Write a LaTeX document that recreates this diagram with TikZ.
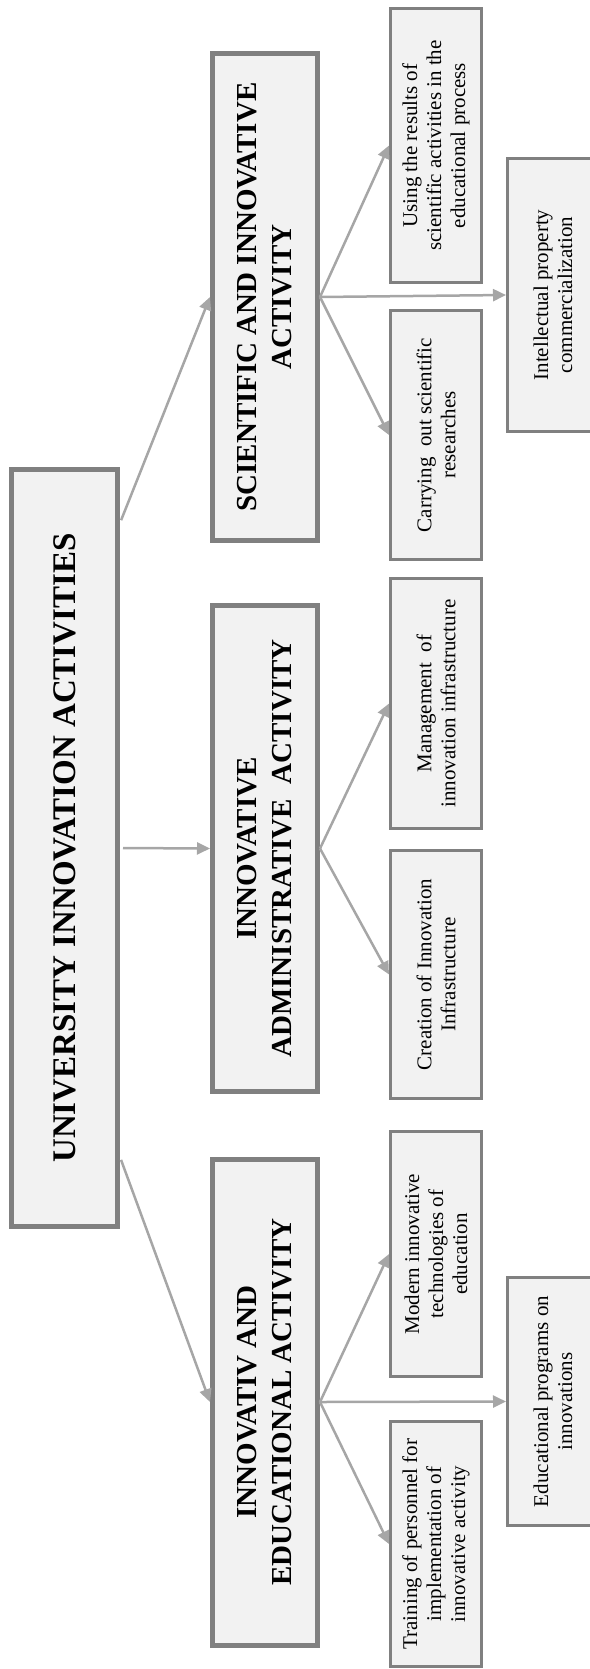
\documentclass[tikz,border=0pt]{standalone}
\usepackage{fontspec}
\setmainfont{Liberation Serif}
\usetikzlibrary{arrows.meta,calc}

\newlength{\du}
\setlength{\du}{0.5pt}

\definecolor{boxlinecolor}{rgb}{0.500000, 0.500000, 0.500000}
\definecolor{boxfillcolor}{rgb}{0.949020, 0.949020, 0.949020}
\definecolor{linkcolor}{rgb}{0.650980, 0.650980, 0.650980}

\tikzset{
  mainbox/.style={draw=boxlinecolor, fill=boxfillcolor, line width=2.5pt, rotate=90,
    minimum width=378.5pt, minimum height=53pt, inner sep=0pt, align=center,
    font=\fontsize{16.5}{20}\selectfont\bfseries},
  midbox/.style={draw=boxlinecolor, fill=boxfillcolor, line width=2.5pt, rotate=90,
    minimum width=243pt, minimum height=52.5pt, inner sep=0pt, align=center,
    font=\fontsize{14.5}{17.5}\selectfont\bfseries},
  smallbox/.style={draw=boxlinecolor, fill=boxfillcolor, line width=1.5pt, rotate=90,
    minimum height=45.5pt, inner sep=0pt, align=center,
    font=\fontsize{10.5}{12}\selectfont},
  link/.style={draw=linkcolor, line width=1.25pt, -{Triangle[length=6.5pt,width=6pt]}}
}

\begin{document}
\begin{tikzpicture}[x=1\du,y=-1\du]
\useasboundingbox (0,0) rectangle (589,1669);
% main box
\node[mainbox] (univ) at (64.5,848) {UNIVERSITY INNOVATION ACTIVITIES};
% activity groups
\node[midbox] (sci) at (265,297) {SCIENTIFIC AND INNOVATIVE\\ACTIVITY};
\node[midbox] (adm) at (265,848.5) {INNOVATIVE\\ADMINISTRATIVE~ ACTIVITY};
\node[midbox] (edu) at (265,1402) {INNOVATIV AND\\EDUCATIONAL ACTIVITY};
% scientific branch
\node[smallbox, minimum width=137pt] (using) at (436,145.5) {Using the results of\\scientific activities in the\\educational process};
\node[smallbox, minimum width=124.5pt] (carry) at (436,435) {Carrying~ out scientific\\researches};
\node[smallbox, minimum width=136.5pt] (ipc) at (553,295) {Intellectual property\\commercialization};
% administrative branch
\node[smallbox, minimum width=125pt] (manage) at (436,703.5) {Management~ of\\innovation infrastructure};
\node[smallbox, minimum width=124pt] (create) at (436,974.5) {Creation of Innovation\\Infrastructure};
% educational branch
\node[smallbox, minimum width=122.5pt] (modern) at (436,1254) {Modern innovative\\technologies of\\education};
\node[smallbox, minimum width=122.5pt] (train) at (436,1544) {Training of personnel for\\implementation of\\innovative activity};
\node[smallbox, minimum width=124pt] (eprog) at (553,1401.5) {Educational programs on\\innovations};
% links
\draw[link, shorten <=1.5pt] ($(univ.south)+(0,-325)$) -- (sci.north);
\draw[link, shorten <=1.5pt] (univ.south) -- (adm.north);
\draw[link, shorten <=1.5pt] ($(univ.south)+(0,309)$) -- (edu.north);
\draw[link] (sci.south) -- (using.north);
\draw[link] (sci.south) -- (ipc.north);
\draw[link] (sci.south) -- (carry.north);
\draw[link] (adm.south) -- (manage.north);
\draw[link] (adm.south) -- (create.north);
\draw[link] (edu.south) -- (modern.north);
\draw[link] (edu.south) -- (eprog.north);
\draw[link] (edu.south) -- (train.north);
\end{tikzpicture}
\end{document}
